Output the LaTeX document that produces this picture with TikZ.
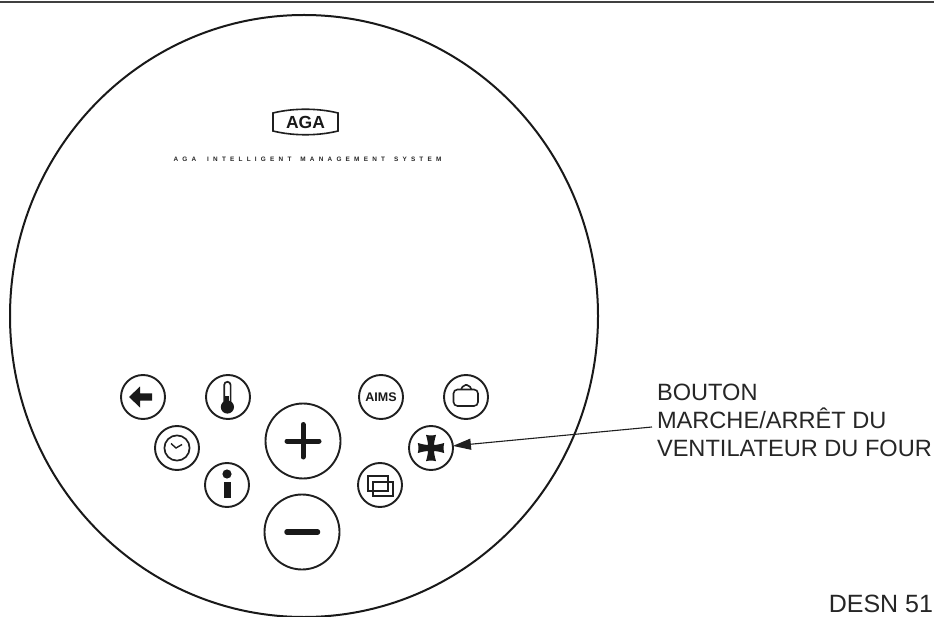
\documentclass[tikz,border=0pt]{standalone}
\usepackage{fontspec}
\setmainfont{Liberation Sans}
\usetikzlibrary{arrows.meta}
\tikzset{
  ink/.style={draw=black!88,line width=1.9pt},
  btn/.style={circle,ink,minimum size=44pt,inner sep=0pt,outer sep=0pt},
  bigbtn/.style={circle,ink,minimum size=75pt,inner sep=0pt,outer sep=0pt},
  glyph/.style={fill=black!90,draw=none},
  label/.style={inner sep=0pt,outer sep=0pt,text=black!85,font=\fontsize{23.6}{28}\selectfont},
  leader/.style={draw=black!88,line width=1.1pt,-{Triangle[length=18pt,width=11pt]}}
}
\begin{document}
\begin{tikzpicture}[x=1pt,y=-1pt]
\useasboundingbox (0,0) rectangle (934,617);
\fill[white] (0,0) rectangle (934,617);
\draw[draw=black!75,line width=2pt] (0,2.5) -- (934,2.5);
\draw[draw=black!90,line width=2pt] (304,316) ellipse [x radius=294pt,y radius=301pt];
% logo
\draw[draw=black!88,line width=1.6pt] (273,113) .. controls (293,108) and (318,108) .. (338,113) -- (338,131) .. controls (318,136) and (293,136) .. (273,131) -- cycle;
\node[inner sep=0pt,font=\fontsize{17.5}{18}\selectfont\bfseries,text=black!90] (logo) at (305.5,122) {AGA};
\node[inner sep=0pt,font=\fontsize{6.4}{7}\selectfont\bfseries\addfontfeature{LetterSpace=66},text=black!85] (tag) at (307.5,159) {AGA\hspace{5pt} INTELLIGENT\hspace{3pt} MANAGEMENT\hspace{3pt} SYSTEM};
% buttons
\node[btn] (back) at (143,397) {};
\node[btn] (therm) at (228,397) {};
\node[btn] (clock) at (177,448) {};
\node[btn] (info) at (227,485) {};
\node[bigbtn] (plus) at (303,441) {};
\node[bigbtn] (minus) at (302,532) {};
\node[btn,font=\fontsize{12.5}{13}\selectfont\bfseries,text=black!90] (aims) at (381,397) {AIMS};
\node[btn] (bag) at (466,397) {};
\node[btn] (fan) at (431,448) {};
\node[btn] (dual) at (380,485) {};
% back arrow
\fill[glyph] (129,397) -- (140,386.5) -- (140,393.3) -- (152,393.3) -- (152,400.7) -- (140,400.7) -- (140,407.5) -- cycle;
% thermometer
\draw[draw=black!88,line width=1.7pt,fill=white] (224.2,407) -- (224.2,385) arc[start angle=180,end angle=0,radius=3.2pt] -- (230.6,407);
\fill[glyph] (225.4,396) rectangle (229.4,407);
\fill[glyph] (227.4,407) circle[radius=6.6pt];
% clock
\draw[draw=black!88,line width=1.7pt] (177,448) circle[radius=12.6pt];
\draw[draw=black!88,line width=1.4pt] (171,443.5) -- (176,448) -- (182,444.5);
% info
\fill[glyph] (227,474) circle[radius=4.6pt];
\fill[glyph] (223.5,482) rectangle (230.5,498);
% plus, minus
\draw[draw=black!90,line width=5pt,line cap=round] (287,441) -- (319,441);
\draw[draw=black!90,line width=5pt,line cap=round] (303,424.5) -- (303,457);
\draw[draw=black!90,line width=5.5pt,line cap=round] (287,532) -- (317.5,532);
% bag
\draw[draw=black!88,line width=1.6pt,rounded corners=4pt] (453.5,389.5) rectangle (478,406);
\draw[draw=black!88,line width=1.6pt,rounded corners=2pt] (461,389.5) -- (463.5,385) -- (469,385) -- (471.5,389.5);
% overlapping frames
\draw[draw=black!88,line width=1.3pt] (368,476) rectangle (388,491);
\draw[draw=black!88,line width=1.3pt] (373,482) rectangle (393,496);
% fan
\foreach \a in {0,90,180,270}{
  \fill[glyph,shift={(fan.center)},rotate=\a] (-3,-3) .. controls (-3.2,-7) and (-4.2,-10) .. (-5,-13.2) .. controls (-2,-12.4) and (2,-12.4) .. (5,-13.2) .. controls (4.2,-10) and (3.2,-7) .. (3,-3) -- (3,3) -- (-3,3) -- cycle;
}
% labels
\node[label,align=left,anchor=base west] (desc) at (657,456) {BOUTON\\MARCHE/ARRÊT DU\\VENTILATEUR DU FOUR};
\node[label,anchor=base east,font=\fontsize{25}{28}\selectfont] (ref) at (933,612.5) {DESN 51};
\coordinate (lead) at (652,427);
\draw[leader] (lead) -- (fan);
\end{tikzpicture}
\end{document}
